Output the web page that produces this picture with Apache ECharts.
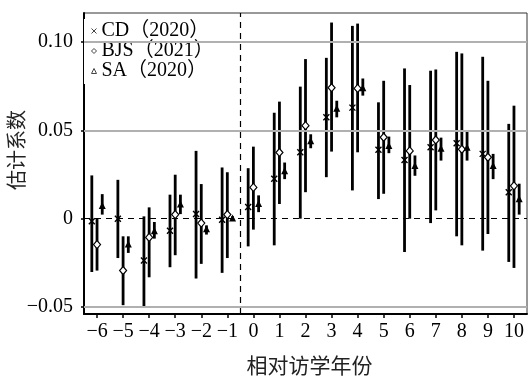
<!DOCTYPE html>
<html>
<head>
	<meta charset="UTF-8" />
	<title></title>
	<style type="text/css">
		* { margin: 0; padding: 0; }
		#main { width: 529px; height: 377px; background-color: #fff; }
	</style>
</head>
<body>
	<div id="main"></div>
</body>
<script src="https://cdn.jsdelivr.net/npm/echarts@6/dist/echarts.min.js"></script>
<script type="text/javascript">
	// 相对访学年份
	var years = [-6, -5, -4, -3, -2, -1, 0, 1, 2, 3, 4, 5, 6, 7, 8, 9, 10]
	var yTicks = [-0.05, 0, 0.05, 0.10]
	var yTickLabels = ['−0.05', '0', '0.05', '0.10']

	// CD (2020)
	var cdEst = [-0.0015, 0, -0.0237, -0.0068, 0.0026, -0.0006, 0.0066, 0.0226, 0.0376, 0.0574, 0.0629, 0.039, 0.0333, 0.0405, 0.0427, 0.0367, 0.0149]
	var cdLo = [-0.0302, -0.0223, -0.0496, -0.0275, -0.0339, -0.0307, -0.0157, -0.0151, 0, 0.0235, 0.016, 0.0111, -0.0189, -0.0025, -0.01, -0.0181, -0.0245]
	var cdHi = [0.0245, 0.022, 0.0013, 0.0136, 0.0384, 0.029, 0.0286, 0.06, 0.0748, 0.0911, 0.1092, 0.0659, 0.0851, 0.0838, 0.0945, 0.0917, 0.0537]

	// BJS (2021)
	var bjsEst = [-0.0147, -0.0294, -0.0106, 0.0023, -0.0025, 0.0023, 0.0177, 0.0375, 0.0527, 0.0742, 0.0738, 0.0461, 0.0384, 0.0446, 0.0393, 0.0348, 0.0186]
	var bjsLo = [-0.0294, -0.049, -0.0332, -0.0207, -0.0256, -0.0223, -0.0062, 0.0083, 0.015, 0.038, 0.0376, 0.0141, 0, 0.0047, -0.0151, -0.0087, -0.0279]
	var bjsHi = [0.0003, -0.01, 0.0064, 0.0249, 0.0196, 0.0263, 0.0408, 0.0663, 0.0904, 0.1111, 0.1105, 0.0781, 0.0757, 0.0845, 0.0936, 0.0781, 0.064]

	// SA (2020)
	var saEst = [0.0075, -0.0143, -0.0068, 0.0083, -0.0057, 0.0004, 0.0086, 0.0271, 0.0441, 0.0625, 0.0742, 0.0414, 0.0301, 0.0399, 0.0405, 0.0301, 0.0113]
	var saLo = [0.0023, -0.0194, -0.0113, 0.0026, -0.009, -0.0006, 0.0037, 0.0224, 0.0399, 0.0574, 0.0697, 0.0371, 0.0243, 0.0329, 0.0329, 0.0224, 0.0023]
	var saHi = [0.0139, -0.01, -0.0019, 0.0136, -0.0038, 0.0014, 0.0132, 0.0318, 0.0478, 0.0668, 0.0794, 0.0465, 0.0358, 0.0459, 0.0493, 0.0367, 0.0198]

	var serif = "Liberation Serif, Times New Roman, Noto Sans CJK SC, serif"
	var cjk = "Noto Sans CJK SC, sans-serif"

	// 每个估计量在同一年份内的水平错位
	function shifted(vals, off) {
		return years.map((y, i) => [y + off, vals[i]])
	}
	function ci(lo, hi, off) {
		return years.map((y, i) => [y + off, lo[i], hi[i]])
	}
	function bars(name, data) {
		return {
			name: name,
			type: 'custom',
			z: 3,
			silent: true,
			encode: { x: 0, y: [1, 2] },
			renderItem: function (params, api) {
				var p1 = api.coord([api.value(0), api.value(1)])
				var p2 = api.coord([api.value(0), api.value(2)])
				return {
					type: 'line',
					shape: { x1: p1[0], y1: p1[1], x2: p2[0], y2: p2[1] },
					style: { stroke: '#000', lineWidth: 2.8 }
				}
			},
			data: data
		}
	}

	var myChart = echarts.init(document.getElementById('main'))
	var option = {
		backgroundColor: '#fff',
		animation: false,
		grid: {
			left: 84, right: 2, top: 13, bottom: 63,
			outerBoundsMode: 'none',
			containLabel: false,
			show: true, borderColor: '#333', borderWidth: 1
		},
		graphic: [{
			type: 'text',
			x: 16, y: 150,
			rotation: Math.PI / 2,
			style: {
				text: '估计系数',
				font: '20px ' + cjk,
				fill: '#222',
				align: 'center',
				verticalAlign: 'middle'
			}
		}],
		legend: {
			orient: 'vertical',
			left: 84, top: 19,
			padding: [2, 14, 3, 7],
			itemGap: 0,
			itemWidth: 5, itemHeight: 5,
			backgroundColor: '#fff',
			textStyle: { fontSize: 20, lineHeight: 17, fontFamily: serif, color: '#000' },
			data: [
				{ name: 'CD（2020）', icon: 'path://M0,0L10,10M0,10L10,0', itemStyle: { color: 'transparent', borderColor: '#444', borderWidth: 1 } },
				{ name: 'BJS（2021）', icon: 'diamond', itemStyle: { color: '#fff', borderColor: '#444', borderWidth: 1 } },
				{ name: 'SA（2020）', icon: 'triangle', itemStyle: { color: '#fff', borderColor: '#444', borderWidth: 1 } }
			]
		},
		xAxis: {
			type: 'value',
			min: -6.5, max: 10.5,
			name: '相对访学年份',
			nameLocation: 'middle',
			nameGap: 41,
			nameTextStyle: { fontSize: 21, fontFamily: cjk, color: '#222', padding: [0, 0, 0, 8] },
			splitLine: { show: false },
			axisLine: { onZero: false, lineStyle: { color: '#000', width: 2 } },
			axisTick: { customValues: years, length: 4, lineStyle: { color: '#000', width: 1.5 } },
			axisLabel: {
				customValues: years,
				margin: 8,
				fontSize: 20, fontFamily: serif, color: '#000',
				formatter: v => String(v).replace('-', '−')
			}
		},
		yAxis: {
			type: 'value',
			min: -0.054, max: 0.1165,
			splitLine: { show: false },
			axisLine: { show: true, onZero: false, lineStyle: { color: '#000', width: 2 } },
			axisTick: { show: true, customValues: yTicks, length: 3, lineStyle: { color: '#000', width: 1.5 } },
			axisLabel: {
				customValues: yTicks,
				margin: 11,
				fontSize: 20, fontFamily: serif, color: '#000',
				formatter: v => yTickLabels[yTicks.findIndex(t => Math.abs(t - v) < 1e-9)]
			}
		},
		series: [{
			// 网格线与参考虚线
			type: 'line',
			data: [],
			z: 1,
			silent: true,
			markLine: {
				symbol: 'none',
				silent: true,
				label: { show: false },
				data: [
					{ yAxis: 0.10, lineStyle: { color: '#b0b0b0', width: 2, type: 'solid' } },
					{ yAxis: 0.05, lineStyle: { color: '#b0b0b0', width: 2, type: 'solid' } },
					{ yAxis: -0.05, lineStyle: { color: '#b0b0b0', width: 2, type: 'solid' } },
					{ yAxis: 0, lineStyle: { color: '#000', width: 1.2, type: [6, 5] } },
					{ xAxis: -0.5, lineStyle: { color: '#000', width: 1.2, type: [6, 5] } }
				]
			}
		},
		bars('cd-ci', ci(cdLo, cdHi, -0.2)),
		bars('bjs-ci', ci(bjsLo, bjsHi, 0)),
		bars('sa-ci', ci(saLo, saHi, 0.2)),
		{
			name: 'CD（2020）',
			type: 'scatter',
			z: 5,
			symbol: 'path://M0,0L10,10M0,10L10,0',
			symbolSize: 6,
			itemStyle: { color: 'transparent', borderColor: '#000', borderWidth: 1.4, opacity: 1 },
			data: shifted(cdEst, -0.2)
		}, {
			name: 'BJS（2021）',
			type: 'scatter',
			z: 5,
			symbol: 'diamond',
			symbolSize: [7, 8],
			itemStyle: { color: '#fff', borderColor: '#000', borderWidth: 1.2, opacity: 1 },
			data: shifted(bjsEst, 0)
		}, {
			name: 'SA（2020）',
			type: 'scatter',
			z: 5,
			symbol: 'triangle',
			symbolSize: 7,
			itemStyle: { color: '#000', opacity: 1 },
			data: shifted(saEst, 0.2)
		}]
	}
	myChart.setOption(option)
</script>
</html>
